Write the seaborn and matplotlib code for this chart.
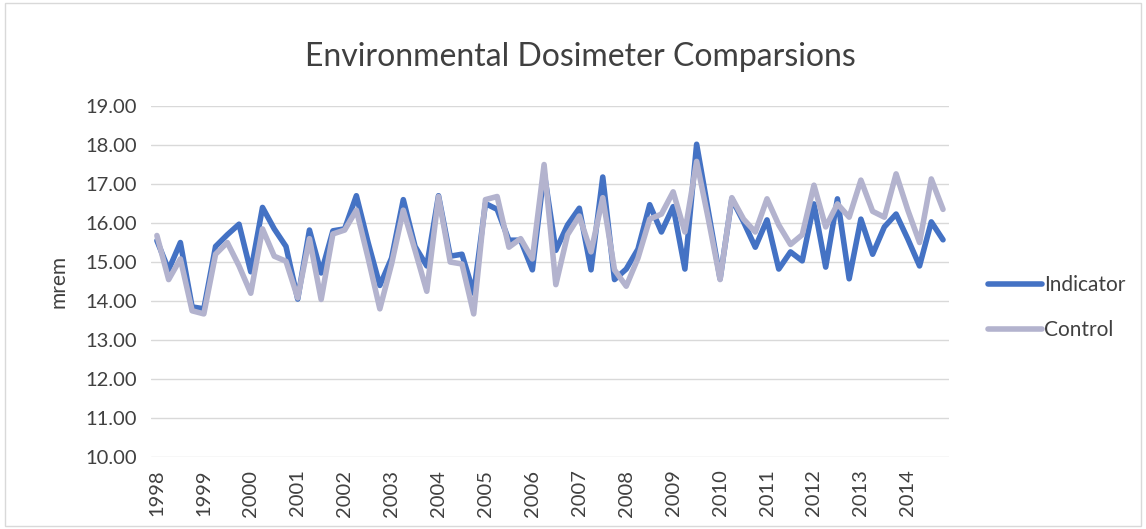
import matplotlib
matplotlib.use("Agg")
import matplotlib.pyplot as plt
import seaborn as sns
import pandas as pd
import numpy as np
from matplotlib.patches import Rectangle

title = "Environmental Dosimeter Comparsions"
y_label = "mrem"
years = [str(y) for y in range(1998, 2015)]

indicator = [15.55, 14.8, 15.5, 13.85, 13.8, 15.4, 15.7, 15.97, 14.75, 16.4,
             15.85, 15.4, 14.05, 15.82, 14.72, 15.8, 15.85, 16.7, 15.5, 14.4,
             15.1, 16.6, 15.4, 14.9, 16.7, 15.15, 15.2, 14.2, 16.5, 16.35,
             15.56, 15.56, 14.8, 17.3, 15.3, 15.95, 16.38, 14.8, 17.18, 14.55,
             14.82, 15.33, 16.47, 15.77, 16.42, 14.82, 18.02, 16.3, 14.57, 16.62,
             16.03, 15.38, 16.08, 14.82, 15.26, 15.03, 16.49, 14.87, 16.62, 14.57,
             16.1, 15.2, 15.9, 16.23, 15.59, 14.9, 16.03, 15.57]

control = [15.68, 14.55, 15.08, 13.75, 13.67, 15.2, 15.5, 14.9, 14.2, 15.85,
           15.15, 15.02, 14.08, 15.6, 14.04, 15.72, 15.82, 16.33, 15.1, 13.8,
           14.95, 16.33, 15.3, 14.25, 16.68, 15.0, 14.95, 13.67, 16.6, 16.68,
           15.38, 15.6, 15.08, 17.5, 14.42, 15.7, 16.18, 15.26, 16.65, 14.8,
           14.38, 15.1, 16.1, 16.23, 16.8, 15.77, 17.58, 16.1, 14.55, 16.65,
           16.1, 15.77, 16.62, 15.95, 15.45, 15.7, 16.97, 15.9, 16.49, 16.15,
           17.1, 16.3, 16.15, 17.26, 16.33, 15.5, 17.13, 16.35]

series_names = ["Indicator", "Control"]
colors = ["#4472C4", "#B3B3CE"]

sns.set_theme(style="white")
plt.rcParams["font.family"] = ["Lato", "DejaVu Sans"]

df = pd.DataFrame({
    "idx": list(range(len(indicator))) * 2,
    "value": indicator + control,
    "series": [series_names[0]] * len(indicator) + [series_names[1]] * len(control),
})

fig = plt.figure(figsize=(11.46, 5.29), dpi=100)
ax = fig.add_axes([0.1318, 0.136, 0.6962, 0.6636])

sns.lineplot(data=df, x="idx", y="value", hue="series", hue_order=series_names,
             palette=colors, linewidth=4.0, ax=ax, legend=True)

ax.set_xlim(-0.5, len(indicator) - 0.5)
ax.set_ylim(10, 19)
ax.set_yticks(np.arange(10, 19.01, 1.0))
ax.set_yticklabels([f"{v:.2f}" for v in np.arange(10, 19.01, 1.0)],
                   fontsize=14.5, color="#404040")
ax.set_xticks(list(range(0, 4 * len(years), 4)))
ax.set_xticklabels(years, rotation=90, fontsize=14.5, color="#404040")
ax.tick_params(axis="y", length=0, pad=10)
ax.tick_params(axis="x", length=0, pad=9)
ax.grid(axis="y", color="#D9D9D9", linewidth=1.0)
ax.grid(axis="x", visible=False)
for s in ax.spines.values():
    s.set_visible(False)
ax.set_xlabel("")
ax.set_ylabel(y_label, fontsize=15, color="#404040", labelpad=12)

leg = ax.legend(loc="center left", bbox_to_anchor=(1.025, 0.425), frameon=False,
                fontsize=15, handlelength=2.6, labelspacing=1.2, handletextpad=0.1)
for t in leg.get_texts():
    t.set_color("#404040")
for line in leg.get_lines():
    line.set_linewidth(4.0)

fig.text(0.506, 0.892, title, ha="center", va="center", fontsize=23,
         color="#404040")

fig.patches.append(Rectangle((0.004, 0.006), 0.992, 0.988, transform=fig.transFigure,
                             fill=False, edgecolor="#D9D9D9", linewidth=1.0))

fig.savefig("out.png", dpi=100)
